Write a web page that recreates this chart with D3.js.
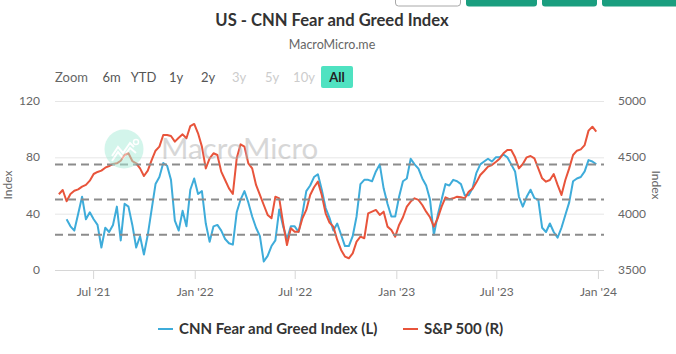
<!DOCTYPE html>
<html>
<head>
<meta charset="utf-8">
<script src="https://cdn.jsdelivr.net/npm/d3@7"></script>
<style>
  body { margin: 0; background: #fff; }
  svg { display: block; font-family: Lato, "Segoe UI", sans-serif; }
</style>
</head>
<body>
<div id="chart"></div>
<script>
// weekly observations, first one on this date
const firstWeek = "2021-04-30";

// CNN Fear & Greed index (left axis), one reading per week
const fearGreed = [null, null, 36, 31, 28, 40, 52, 36, 41, 36,
  32, 16, 30, 27, 32, 45, 21, 47, 45, 32,
  16, 24, 11, 25, 43, 61, 66, 76, 74, 64,
  35, 28, 42, 31, 57, 65, 54, 56, 33, 20,
  31, 32, 28, 22, 19, 18, 41, 50, 56, 48,
  38, 30, 24, 6, 10, 17, 21, 43, 31, 22,
  31, 31, 27, 40, 56, 60, 66, 68, 57, 44,
  37, 28, 33, 25, 17, 17, 24, 38, 61, 64,
  64, 63, 70, 75, 58, 47, 38, 38, 52, 63,
  65, 79, 75, 72, 65, 60, 50, 25, 39, 50,
  61, 60, 64, 63, 61, 53, 53, 58, 69, 75,
  77, 79, 77, 80, 80, 82, 80, 75, 70, 52,
  45, 52, 57, 51, 50, 30, 27, 33, 27, 23,
  30, 39, 48, 63, 65, 66, 70, 78, 77, 75];

// S&P 500 (right axis), same weeks
const sp500 = [4172, 4210, 4110, 4175, 4204, 4216, 4240, 4255, 4293, 4352,
  4370, 4382, 4408, 4423, 4441, 4447, 4470, 4521, 4536, 4467,
  4447, 4402, 4334, 4382, 4476, 4559, 4595, 4698, 4698, 4689,
  4639, 4674, 4704, 4669, 4778, 4796, 4713, 4595, 4402, 4491,
  4536, 4521, 4373, 4299, 4225, 4175, 4491, 4615, 4595, 4447,
  4402, 4255, 4166, 4077, 3989, 3959, 4151, 4136, 3915, 3722,
  3870, 3840, 3840, 3959, 4033, 4166, 4234, 4284, 4166, 4003,
  3921, 3885, 3767, 3678, 3619, 3604, 3648, 3752, 3796, 3782,
  4003, 4018, 4033, 3989, 4018, 3885, 3855, 3796, 3900, 3968,
  4062, 4107, 4136, 4122, 4077, 4018, 3968, 3885, 3959, 4062,
  4145, 4128, 4136, 4151, 4145, 4136, 4195, 4222, 4278, 4343,
  4379, 4417, 4432, 4459, 4488, 4536, 4565, 4565, 4500, 4402,
  4441, 4500, 4512, 4491, 4402, 4314, 4284, 4299, 4352, 4255,
  4166, 4299, 4402, 4521, 4559, 4571, 4609, 4737, 4772, 4728];

const guideLevels = [25, 50, 75];
const leftTicks = [0, 40, 80, 120];
const rightTicks = [3500, 4000, 4500, 5000];
const xTicks = ["2021-07-01", "2022-01-01", "2022-07-01", "2023-01-01", "2023-07-01", "2024-01-01"];
const rangeLabels = ["6m", "YTD", "1y", "2y", "3y", "5y", "10y", "All"];
const rangeEnabled = [true, true, true, true, false, false, false, true];
const seriesNames = ["CNN Fear and Greed Index (L)", "S&P 500 (R)"];

const W = 676, H = 354;
const plotL = 55, plotR = 604, plotT = 101, plotB = 270;
const blue = "#3eacda", red = "#e8543b";

const parse = d3.utcParse("%Y-%m-%d");
const t0 = parse(firstWeek);
const weeks = sp500.map((_, i) => d3.utcDay.offset(t0, 7 * i));

const x = d3.scaleUtc()
  .domain([new Date(Date.UTC(2021, 3, 23)), new Date(Date.UTC(2024, 0, 12))])
  .range([plotL, plotR]);
const yL = d3.scaleLinear().domain([0, 120]).range([plotB, plotT]);
const yR = d3.scaleLinear().domain([3500, 5000]).range([plotB, plotT]);

const svg = d3.select("#chart").append("svg")
  .attr("width", W).attr("height", H);

// buttons cut off at the top edge
const topBtns = svg.append("g");
topBtns.append("rect").attr("x", 395.5).attr("y", -6).attr("width", 65).attr("height", 12)
  .attr("rx", 3).attr("fill", "#fff").attr("stroke", "#a8a8a8");
[[466, 71], [542, 55], [602, 80]].forEach(b => {
  topBtns.append("rect").attr("x", b[0]).attr("y", -6).attr("width", b[1]).attr("height", 12.5)
    .attr("rx", 3).attr("fill", "#1a9e7f");
});

// title
svg.append("text").attr("x", 332).attr("y", 26).attr("text-anchor", "middle")
  .attr("font-size", 16.6).attr("font-weight", "bold").attr("fill", "#333")
  .text("US - CNN Fear and Greed Index");
svg.append("text").attr("x", 332).attr("y", 49).attr("text-anchor", "middle")
  .attr("font-size", 12.5).attr("fill", "#666")
  .text("MacroMicro.me");

// range selector
const rs = svg.append("g").attr("font-size", 13);
rs.append("text").attr("x", 55).attr("y", 82).attr("fill", "#666").text("Zoom");
const btnX = [111.5, 143.5, 176, 208, 239, 272, 304, 337];
rs.append("rect").attr("x", 321).attr("y", 66).attr("width", 32).attr("height", 22)
  .attr("rx", 2).attr("fill", "#4fe2c1");
rs.selectAll("text.btn").data(rangeLabels).join("text")
  .attr("class", "btn")
  .attr("x", (d, i) => btnX[i]).attr("y", 82)
  .attr("text-anchor", "middle")
  .attr("fill", (d, i) => rangeEnabled[i] ? (d === "All" ? "#222" : "#555") : "#ccc")
  .attr("font-weight", d => d === "All" ? "bold" : null)
  .text(d => d);

// grid
svg.append("g").selectAll("line").data(leftTicks.slice(1)).join("line")
  .attr("x1", plotL).attr("x2", plotR)
  .attr("y1", d => yL(d) + 0.5).attr("y2", d => yL(d) + 0.5)
  .attr("stroke", "#e6e6e6");

// x axis
const xAxis = svg.append("g").attr("transform", `translate(0,${plotB})`)
  .call(d3.axisBottom(x)
    .tickValues(xTicks.map(parse))
    .tickFormat(d3.utcFormat("%b '%y"))
    .tickSize(9));
xAxis.select(".domain").attr("stroke", "#d6d6d6").attr("d", `M${plotL},0.5H${plotR}`);
xAxis.selectAll(".tick line").attr("stroke", "#d6d6d6");
xAxis.selectAll(".tick text").attr("fill", "#666").attr("font-size", 12)
  .attr("y", 26).attr("dy", null);
xAxis.attr("font-family", null);

// y axes labels
svg.append("g").selectAll("text").data(leftTicks).join("text")
  .attr("x", 40).attr("y", d => yL(d) + 4).attr("text-anchor", "end")
  .attr("font-size", 12).attr("fill", "#666").text(d => d);
svg.append("g").selectAll("text").data(rightTicks).join("text")
  .attr("x", 618).attr("y", d => yR(d) + 4).attr("text-anchor", "start")
  .attr("font-size", 12).attr("fill", "#666").text(d => d);
svg.append("text").attr("transform", "translate(12,185) rotate(-90)")
  .attr("text-anchor", "middle").attr("font-size", 12).attr("fill", "#666").text("Index");
svg.append("text").attr("transform", "translate(652,185) rotate(90)")
  .attr("text-anchor", "middle").attr("font-size", 12).attr("fill", "#666").text("Index");

// series
const lineL = d3.line().defined(d => d[1] != null).x(d => x(d[0])).y(d => yL(d[1]));
const lineR = d3.line().x(d => x(d[0])).y(d => yR(d[1]));
svg.append("path").datum(weeks.map((d, i) => [d, fearGreed[i]]))
  .attr("d", lineL).attr("fill", "none").attr("stroke", blue)
  .attr("stroke-width", 2).attr("stroke-linejoin", "round");
svg.append("path").datum(weeks.map((d, i) => [d, sp500[i]]))
  .attr("d", lineR).attr("fill", "none").attr("stroke", red)
  .attr("stroke-width", 2).attr("stroke-linejoin", "round");

// dashed guide lines
svg.append("g").selectAll("line").data(guideLevels).join("line")
  .attr("x1", plotL).attr("x2", plotR)
  .attr("y1", d => yL(d)).attr("y2", d => yL(d))
  .attr("stroke", "#8c8c8c").attr("stroke-width", 2).attr("stroke-dasharray", "8,5");

// watermark
const wm = svg.append("g").attr("opacity", 0.5);
wm.append("circle").attr("cx", 124).attr("cy", 149).attr("r", 19.5).attr("fill", "#a8ecd8");
wm.append("polyline").attr("points", "112,156 118,147 123,153 130,143 134,147")
  .attr("fill", "none").attr("stroke", "#fff").attr("stroke-width", 2);
wm.append("polyline").attr("points", "112,161 118,152 123,158 130,148 136,153")
  .attr("fill", "none").attr("stroke", "#fff").attr("stroke-width", 2);
wm.append("circle").attr("cx", 136).attr("cy", 142).attr("r", 2.5)
  .attr("fill", "none").attr("stroke", "#fff").attr("stroke-width", 1.5);
wm.append("text").attr("x", 161).attr("y", 159).attr("font-size", 29.5)
  .attr("fill", "#b0b0b0").text("MacroMicro");

// legend
const lg = svg.append("g").attr("font-size", 15).attr("font-weight", "bold").attr("fill", "#333");
[[158, blue], [403, red]].forEach((p, i) => {
  lg.append("line").attr("x1", p[0]).attr("x2", p[0] + 15).attr("y1", 329).attr("y2", 329)
    .attr("stroke", p[1]).attr("stroke-width", 2);
  lg.append("text").attr("x", p[0] + 21).attr("y", 334).text(seriesNames[i]);
});
</script>
</body>
</html>
